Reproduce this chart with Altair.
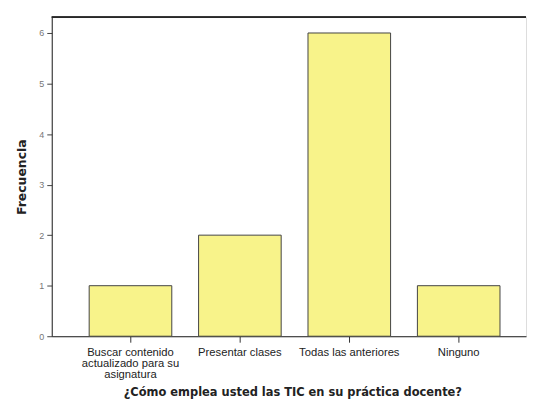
import altair as alt
import pandas as pd

categories = [
    "Buscar contenido|actualizado para su|asignatura",
    "Presentar clases",
    "Todas las anteriores",
    "Ninguno",
]
frecuencia = [1, 2, 6, 1]
y_ticks = [0, 1, 2, 3, 4, 5, 6]

df = pd.DataFrame({"categoria": categories, "frecuencia": frecuencia})

W, H = 477, 321

x_enc = alt.X(
    "categoria:N",
    sort=categories,
    scale=alt.Scale(paddingInner=0.245, paddingOuter=0.29, align=0.59),
    axis=alt.Axis(
        title="¿Cómo emplea usted las TIC en su práctica docente?",
        labelExpr="split(datum.label, '|')",
        labelAngle=0,
        labelFont="Liberation Sans",
        labelFontSize=11.3,
        labelLineHeight=11.5,
        labelColor="#222",
        labelPadding=4,
        tickSize=6,
        tickColor="#333",
        domainColor="#222",
        titleFont="DejaVu Sans",
        titleFontWeight="bold",
        titleFontSize=11.5,
        titleColor="#222",
        titlePadding=6,
        titleX=242,
    ),
)

bars = alt.Chart(df).mark_bar(
    fill="#f8f38a", stroke="#444", strokeWidth=1
).encode(
    x=x_enc,
    y=alt.Y(
        "frecuencia:Q",
        scale=alt.Scale(domain=[0, 6.315], nice=False),
        axis=alt.Axis(
            title="Frecuencia",
            values=y_ticks,
            labelFont="Liberation Sans",
            labelFontSize=9,
            labelColor="#777",
            labelPadding=3,
            tickSize=5,
            tickColor="#444",
            domainColor="#222",
            grid=False,
            titleFont="DejaVu Sans",
            titleFontWeight="bold",
            titleFontSize=12.5,
            titleColor="#222",
            titlePadding=10,
        ),
    ),
)

top = alt.Chart(df).mark_rule(color="#222", strokeWidth=1).encode(
    x=alt.value(0), x2=alt.value(W), y=alt.value(0)
)

chart = (
    alt.layer(bars, top)
    .properties(width=W, height=H, padding={"left": 7, "top": 7, "right": 0, "bottom": 0})
    .configure_view(stroke=None)
    .configure(background="white")
)

chart.save("out.html", embed_options={"renderer": "svg", "actions": False})
